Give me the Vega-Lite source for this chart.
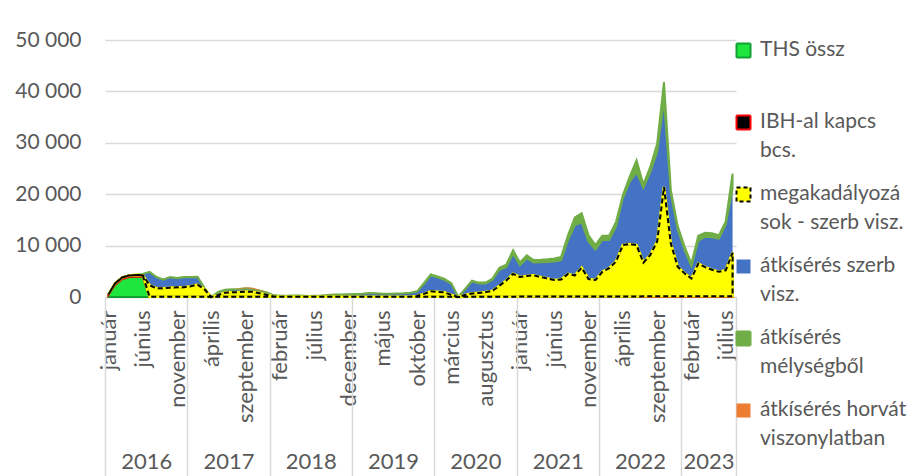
{
  "$schema": "https://vega.github.io/schema/vega-lite/v6.json",
  "width": 631,
  "height": 257,
  "autosize": {"type": "none"},
  "padding": {"left": 105, "top": 40, "right": 175, "bottom": 179},
  "background": "white",
  "config": {
    "view": {"stroke": null},
    "font": "Lato",
    "axis": {"labelFont": "Lato", "labelFontSize": 21, "labelColor": "#595959"},
    "legend": {"labelFont": "Lato", "labelFontSize": 21, "labelColor": "#595959"}
  },
  "data": {
    "values": [
      {"idx":0,"THS":400,"IBH":100,"MEG":0,"SZERB":0,"MELY":0,"HORV":0},
      {"idx":1,"THS":2400,"IBH":300,"MEG":0,"SZERB":0,"MELY":0,"HORV":0},
      {"idx":2,"THS":3500,"IBH":300,"MEG":0,"SZERB":0,"MELY":0,"HORV":0},
      {"idx":3,"THS":3900,"IBH":300,"MEG":0,"SZERB":0,"MELY":0,"HORV":0},
      {"idx":4,"THS":4000,"IBH":300,"MEG":0,"SZERB":0,"MELY":0,"HORV":0},
      {"idx":5,"THS":3950,"IBH":300,"MEG":0,"SZERB":250,"MELY":0,"HORV":0},
      {"idx":6,"THS":0,"IBH":50,"MEG":2250,"SZERB":2560,"MELY":40,"HORV":0},
      {"idx":7,"THS":0,"IBH":50,"MEG":1650,"SZERB":2160,"MELY":40,"HORV":0},
      {"idx":8,"THS":0,"IBH":50,"MEG":1650,"SZERB":1660,"MELY":40,"HORV":0},
      {"idx":9,"THS":0,"IBH":50,"MEG":1750,"SZERB":2060,"MELY":40,"HORV":0},
      {"idx":10,"THS":0,"IBH":50,"MEG":1850,"SZERB":1760,"MELY":40,"HORV":0},
      {"idx":11,"THS":0,"IBH":50,"MEG":1850,"SZERB":1960,"MELY":40,"HORV":0},
      {"idx":12,"THS":0,"IBH":50,"MEG":2050,"SZERB":1760,"MELY":40,"HORV":0},
      {"idx":13,"THS":0,"IBH":50,"MEG":2350,"SZERB":1510,"MELY":40,"HORV":0},
      {"idx":14,"THS":0,"IBH":50,"MEG":1450,"SZERB":260,"MELY":40,"HORV":0},
      {"idx":15,"THS":0,"IBH":0,"MEG":0,"SZERB":0,"MELY":0,"HORV":0},
      {"idx":16,"THS":0,"IBH":50,"MEG":350,"SZERB":560,"MELY":40,"HORV":0},
      {"idx":17,"THS":0,"IBH":50,"MEG":800,"SZERB":510,"MELY":40,"HORV":0},
      {"idx":18,"THS":0,"IBH":50,"MEG":850,"SZERB":560,"MELY":40,"HORV":0},
      {"idx":19,"THS":0,"IBH":50,"MEG":900,"SZERB":560,"MELY":40,"HORV":100},
      {"idx":20,"THS":0,"IBH":50,"MEG":1000,"SZERB":610,"MELY":40,"HORV":150},
      {"idx":21,"THS":0,"IBH":50,"MEG":950,"SZERB":560,"MELY":40,"HORV":200},
      {"idx":22,"THS":0,"IBH":50,"MEG":700,"SZERB":460,"MELY":40,"HORV":150},
      {"idx":23,"THS":0,"IBH":50,"MEG":400,"SZERB":460,"MELY":40,"HORV":50},
      {"idx":24,"THS":0,"IBH":50,"MEG":100,"SZERB":210,"MELY":40,"HORV":0},
      {"idx":25,"THS":0,"IBH":50,"MEG":10,"SZERB":150,"MELY":40,"HORV":0},
      {"idx":26,"THS":0,"IBH":50,"MEG":10,"SZERB":150,"MELY":40,"HORV":0},
      {"idx":27,"THS":0,"IBH":50,"MEG":10,"SZERB":200,"MELY":40,"HORV":0},
      {"idx":28,"THS":0,"IBH":50,"MEG":10,"SZERB":200,"MELY":40,"HORV":0},
      {"idx":29,"THS":0,"IBH":50,"MEG":10,"SZERB":100,"MELY":40,"HORV":0},
      {"idx":30,"THS":0,"IBH":50,"MEG":10,"SZERB":150,"MELY":40,"HORV":0},
      {"idx":31,"THS":0,"IBH":50,"MEG":10,"SZERB":200,"MELY":40,"HORV":0},
      {"idx":32,"THS":0,"IBH":50,"MEG":10,"SZERB":300,"MELY":40,"HORV":0},
      {"idx":33,"THS":0,"IBH":50,"MEG":10,"SZERB":400,"MELY":40,"HORV":0},
      {"idx":34,"THS":0,"IBH":50,"MEG":10,"SZERB":400,"MELY":40,"HORV":0},
      {"idx":35,"THS":0,"IBH":50,"MEG":10,"SZERB":450,"MELY":40,"HORV":0},
      {"idx":36,"THS":0,"IBH":50,"MEG":10,"SZERB":500,"MELY":40,"HORV":0},
      {"idx":37,"THS":0,"IBH":50,"MEG":10,"SZERB":550,"MELY":40,"HORV":0},
      {"idx":38,"THS":0,"IBH":50,"MEG":10,"SZERB":700,"MELY":40,"HORV":0},
      {"idx":39,"THS":0,"IBH":50,"MEG":10,"SZERB":650,"MELY":40,"HORV":0},
      {"idx":40,"THS":0,"IBH":50,"MEG":10,"SZERB":550,"MELY":40,"HORV":0},
      {"idx":41,"THS":0,"IBH":50,"MEG":10,"SZERB":550,"MELY":40,"HORV":0},
      {"idx":42,"THS":0,"IBH":50,"MEG":10,"SZERB":600,"MELY":40,"HORV":0},
      {"idx":43,"THS":0,"IBH":50,"MEG":10,"SZERB":650,"MELY":40,"HORV":0},
      {"idx":44,"THS":0,"IBH":50,"MEG":10,"SZERB":750,"MELY":40,"HORV":0},
      {"idx":45,"THS":0,"IBH":50,"MEG":150,"SZERB":860,"MELY":40,"HORV":0},
      {"idx":46,"THS":0,"IBH":50,"MEG":550,"SZERB":1950,"MELY":150,"HORV":0},
      {"idx":47,"THS":0,"IBH":50,"MEG":1050,"SZERB":3100,"MELY":200,"HORV":0},
      {"idx":48,"THS":0,"IBH":50,"MEG":950,"SZERB":2850,"MELY":150,"HORV":0},
      {"idx":49,"THS":0,"IBH":50,"MEG":850,"SZERB":2450,"MELY":150,"HORV":0},
      {"idx":50,"THS":0,"IBH":50,"MEG":350,"SZERB":2200,"MELY":100,"HORV":0},
      {"idx":51,"THS":0,"IBH":0,"MEG":0,"SZERB":0,"MELY":0,"HORV":0},
      {"idx":52,"THS":0,"IBH":50,"MEG":350,"SZERB":1100,"MELY":100,"HORV":0},
      {"idx":53,"THS":0,"IBH":50,"MEG":650,"SZERB":2350,"MELY":150,"HORV":0},
      {"idx":54,"THS":0,"IBH":50,"MEG":750,"SZERB":1850,"MELY":150,"HORV":0},
      {"idx":55,"THS":0,"IBH":50,"MEG":900,"SZERB":1700,"MELY":150,"HORV":0},
      {"idx":56,"THS":0,"IBH":50,"MEG":1150,"SZERB":2150,"MELY":250,"HORV":0},
      {"idx":57,"THS":0,"IBH":50,"MEG":2150,"SZERB":3100,"MELY":400,"HORV":0},
      {"idx":58,"THS":0,"IBH":50,"MEG":3150,"SZERB":2600,"MELY":500,"HORV":0},
      {"idx":59,"THS":0,"IBH":50,"MEG":4450,"SZERB":3900,"MELY":700,"HORV":0},
      {"idx":60,"THS":0,"IBH":100,"MEG":3800,"SZERB":2300,"MELY":500,"HORV":0},
      {"idx":61,"THS":0,"IBH":100,"MEG":4000,"SZERB":3400,"MELY":600,"HORV":0},
      {"idx":62,"THS":0,"IBH":100,"MEG":4100,"SZERB":2500,"MELY":500,"HORV":0},
      {"idx":63,"THS":0,"IBH":100,"MEG":3800,"SZERB":2850,"MELY":500,"HORV":0},
      {"idx":64,"THS":0,"IBH":100,"MEG":3500,"SZERB":3200,"MELY":550,"HORV":0},
      {"idx":65,"THS":0,"IBH":100,"MEG":3200,"SZERB":3600,"MELY":600,"HORV":0},
      {"idx":66,"THS":0,"IBH":100,"MEG":3300,"SZERB":3750,"MELY":650,"HORV":0},
      {"idx":67,"THS":0,"IBH":100,"MEG":4400,"SZERB":6500,"MELY":1000,"HORV":0},
      {"idx":68,"THS":0,"IBH":100,"MEG":4100,"SZERB":9800,"MELY":1500,"HORV":0},
      {"idx":69,"THS":0,"IBH":100,"MEG":5600,"SZERB":8800,"MELY":1800,"HORV":0},
      {"idx":70,"THS":0,"IBH":100,"MEG":3400,"SZERB":7300,"MELY":1200,"HORV":0},
      {"idx":71,"THS":0,"IBH":100,"MEG":3200,"SZERB":5900,"MELY":900,"HORV":0},
      {"idx":72,"THS":0,"IBH":100,"MEG":4800,"SZERB":6200,"MELY":800,"HORV":0},
      {"idx":73,"THS":0,"IBH":100,"MEG":5500,"SZERB":5500,"MELY":850,"HORV":0},
      {"idx":74,"THS":0,"IBH":100,"MEG":6800,"SZERB":6800,"MELY":900,"HORV":0},
      {"idx":75,"THS":0,"IBH":100,"MEG":10000,"SZERB":9100,"MELY":600,"HORV":0},
      {"idx":76,"THS":0,"IBH":100,"MEG":10200,"SZERB":12100,"MELY":1000,"HORV":0},
      {"idx":77,"THS":0,"IBH":100,"MEG":10000,"SZERB":14200,"MELY":2300,"HORV":0},
      {"idx":78,"THS":0,"IBH":150,"MEG":6550,"SZERB":14550,"MELY":650,"HORV":0},
      {"idx":79,"THS":0,"IBH":150,"MEG":8050,"SZERB":16100,"MELY":1000,"HORV":0},
      {"idx":80,"THS":0,"IBH":150,"MEG":10650,"SZERB":17400,"MELY":1600,"HORV":0},
      {"idx":81,"THS":0,"IBH":150,"MEG":21250,"SZERB":16900,"MELY":3500,"HORV":0},
      {"idx":82,"THS":0,"IBH":150,"MEG":10250,"SZERB":9750,"MELY":650,"HORV":0},
      {"idx":83,"THS":0,"IBH":150,"MEG":5750,"SZERB":7250,"MELY":650,"HORV":0},
      {"idx":84,"THS":0,"IBH":150,"MEG":4450,"SZERB":4550,"MELY":650,"HORV":0},
      {"idx":85,"THS":0,"IBH":150,"MEG":3450,"SZERB":2400,"MELY":500,"HORV":0},
      {"idx":86,"THS":0,"IBH":150,"MEG":6350,"SZERB":4450,"MELY":950,"HORV":0},
      {"idx":87,"THS":0,"IBH":150,"MEG":5650,"SZERB":5900,"MELY":800,"HORV":0},
      {"idx":88,"THS":0,"IBH":150,"MEG":5150,"SZERB":6300,"MELY":800,"HORV":0},
      {"idx":89,"THS":0,"IBH":150,"MEG":4750,"SZERB":6450,"MELY":650,"HORV":0},
      {"idx":90,"THS":0,"IBH":150,"MEG":5050,"SZERB":8850,"MELY":650,"HORV":0},
      {"idx":91,"THS":0,"IBH":150,"MEG":8450,"SZERB":12500,"MELY":2900,"HORV":0}
    ]
  },
  "transform": [
    {"fold": ["THS", "IBH", "MEG", "SZERB", "MELY", "HORV"], "as": ["sorozat", "ertek"]},
    {"calculate": "indexof(['THS','IBH','MEG','SZERB','MELY','HORV'], datum.sorozat)", "as": "rend"},
    {"stack": "ertek", "groupby": ["idx"], "sort": [{"field": "rend", "order": "ascending"}], "as": ["alap", "teteje"]}
  ],
  "layer": [
    {
      "mark": {"type": "area", "interpolate": "linear", "strokeWidth": 2, "line": false},
      "encoding": {
        "x": {
          "field": "idx", "type": "quantitative",
          "scale": {"domain": [-0.5, 91.5], "nice": false, "zero": false},
          "axis": {
            "orient": "bottom", "title": null,
            "values": [0,5,10,15,20,25,30,35,40,45,50,55,60,65,70,75,80,85,90],
            "labelExpr": "['január','február','március','április','május','június','július','augusztus','szeptember','október','november','december'][datum.value % 12]",
            "labelAngle": -90, "labelPadding": 13, "labelFontSize": 22, "labelFlush": false, "labelOverlap": false, "labelBound": false,
            "ticks": false, "grid": false, "domain": true, "domainColor": "#D9D9D9", "domainWidth": 1.5
          }
        },
        "y": {
          "field": "teteje", "type": "quantitative",
          "scale": {"domain": [0, 50000], "nice": false},
          "axis": {
            "title": null, "values": [0, 10000, 20000, 30000, 40000, 50000],
            "labelExpr": "replace(format(datum.value, ','), ',', ' ')",
            "labelPadding": 24, "ticks": false, "domain": false,
            "grid": true, "gridColor": "#D9D9D9", "gridWidth": 1.5
          }
        },
        "y2": {"field": "alap"},
        "fill": {
          "field": "sorozat", "type": "nominal",
          "scale": {
            "domain": ["THS", "IBH", "MEG", "SZERB", "MELY", "HORV"],
            "range": ["#1FE63C", "#000000", "#FFFF00", "#4472C4", "#70AD47", "#ED7D31"]
          },
          "legend": {
            "title": null, "orient": "none", "legendX": 628, "legendY": 0,
            "symbolType": "square", "symbolSize": 196, "symbolStrokeWidth": 2, "symbolOpacity": 1,
            "labelOffset": 6, "labelLimit": 400, "gridAlign": "all", "rowPadding": 21,
            "labelExpr": "datum.value == 'THS' ? ['THS össz', ' '] : datum.value == 'IBH' ? ['IBH-al kapcs', 'bcs.'] : datum.value == 'MEG' ? ['megakadályozá', 'sok - szerb visz.'] : datum.value == 'SZERB' ? ['átkísérés szerb', 'visz.'] : datum.value == 'MELY' ? ['átkísérés', 'mélységből'] : ['átkísérés horvát', 'viszonylatban']",
            "labelBaseline": "top",
            "labelFont": "Lato", "labelFontSize": 21, "labelColor": "#595959",
            "encode": {
              "labels": {"update": {"lineHeight": {"value": 29}, "dy": {"value": -12}}},
              "symbols": {"update": {"strokeDash": {"signal": "datum.value == 'MEG' ? [4, 3] : [1, 0]"}}}
            }
          }
        },
        "stroke": {
          "field": "sorozat", "type": "nominal",
          "scale": {
            "domain": ["THS", "IBH", "MEG", "SZERB", "MELY", "HORV"],
            "range": ["#10A034", "#FF0000", "#000000", "rgba(0,0,0,0)", "#70AD47", "rgba(0,0,0,0)"]
          },
          "legend": null
        }
      }
    },
    {
      "transform": [{"filter": "datum.sorozat == 'MEG'"}],
      "mark": {"type": "area", "interpolate": "linear", "fillOpacity": 0, "stroke": "#FFFF00", "strokeWidth": 2.6, "line": false},
      "encoding": {
        "x": {"field": "idx", "type": "quantitative", "axis": null},
        "y": {"field": "teteje", "type": "quantitative"},
        "y2": {"field": "alap"}
      }
    },
    {
      "transform": [{"filter": "datum.sorozat == 'MEG'"}],
      "mark": {"type": "area", "interpolate": "linear", "fillOpacity": 0, "stroke": "#000000", "strokeWidth": 2, "strokeDash": [5, 3], "line": false},
      "encoding": {
        "x": {"field": "idx", "type": "quantitative", "axis": null},
        "y": {"field": "teteje", "type": "quantitative"},
        "y2": {"field": "alap"}
      }
    },
    {
      "mark": {"type": "point", "opacity": 0},
      "encoding": {
        "x": {
          "field": "idx", "type": "quantitative",
          "axis": {
            "orient": "bottom", "title": null,
            "values": [-0.5, 11.5, 23.5, 35.5, 47.5, 59.5, 71.5, 83.5, 91.5],
            "labels": false, "ticks": true, "tickSize": 180, "tickColor": "#D9D9D9", "tickWidth": 1.5,
            "domain": false, "grid": false
          }
        }
      }
    },
    {
      "mark": {"type": "point", "opacity": 0},
      "encoding": {
        "x": {
          "field": "idx", "type": "quantitative",
          "axis": {
            "orient": "bottom", "title": null,
            "values": [5.5, 17.5, 29.5, 41.5, 53.5, 65.5, 77.5, 87.5],
            "labelExpr": "'' + (2016 + floor(datum.value / 12))",
            "labelPadding": 154, "labelFontSize": 22, "labelFlush": false, "labelOverlap": false,
            "ticks": false, "domain": false, "grid": false
          }
        }
      }
    }
  ],
  "resolve": {"axis": {"x": "independent"}}
}
